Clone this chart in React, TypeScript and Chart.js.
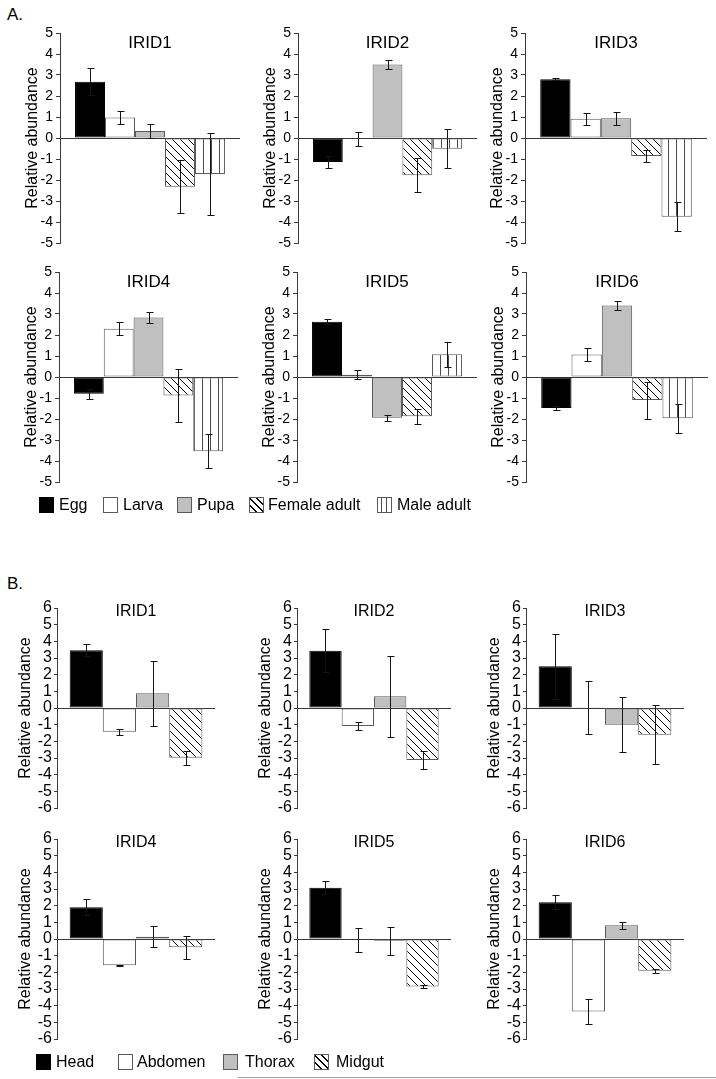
import React, { useEffect, useRef } from 'react';
import { Chart, registerables } from 'chart.js';

Chart.register(...registerables);

const FONT = '"Liberation Sans", Arial, Helvetica, sans-serif';

// ---------- categories ----------
const STAGES = ['Egg', 'Larva', 'Pupa', 'Female adult', 'Male adult'];
const TISSUES = ['Head', 'Abdomen', 'Thorax', 'Midgut'];
const GENES = ['IRID1', 'IRID2', 'IRID3', 'IRID4', 'IRID5', 'IRID6'];
const Y_TITLE = 'Relative abundance';

// ---------- panel A: developmental stages ----------
const A_IRID1 = [2.68, 0.98, 0.33, -2.32, -1.72];
const A_IRID1_ERR = [0.64, 0.32, 0.32, 1.27, 1.97];
const A_IRID2 = [-1.14, -0.04, 3.5, -1.77, -0.51];
const A_IRID2_ERR = [0.29, 0.32, 0.21, 0.82, 0.94];
const A_IRID3 = [2.8, 0.92, 0.94, -0.86, -3.75];
const A_IRID3_ERR = [0.04, 0.28, 0.3, 0.3, 0.68];
const A_IRID4 = [-0.8, 2.3, 2.83, -0.88, -3.53];
const A_IRID4_ERR = [0.24, 0.3, 0.26, 1.26, 0.81];
const A_IRID5 = [2.63, 0.11, -1.94, -1.87, 1.08];
const A_IRID5_ERR = [0.12, 0.22, 0.15, 0.35, 0.61];
const A_IRID6 = [-1.48, 1.07, 3.41, -1.1, -1.97];
const A_IRID6_ERR = [0.1, 0.32, 0.2, 0.88, 0.7];

// ---------- panel B: tissues ----------
const B_IRID1 = [3.47, -1.43, 0.88, -2.98];
const B_IRID1_ERR = [0.35, 0.17, 1.96, 0.42];
const B_IRID2 = [3.43, -1.08, 0.7, -3.12];
const B_IRID2_ERR = [1.28, 0.25, 2.42, 0.55];
const B_IRID3 = [2.5, 0.02, -1.0, -1.6];
const B_IRID3_ERR = [1.96, 1.6, 1.65, 1.75];
const B_IRID4 = [1.91, -1.58, 0.14, -0.5];
const B_IRID4_ERR = [0.48, 0.03, 0.63, 0.67];
const B_IRID5 = [3.08, -0.05, -0.1, -2.85];
const B_IRID5_ERR = [0.38, 0.7, 0.85, 0.07];
const B_IRID6 = [2.2, -4.35, 0.83, -1.9];
const B_IRID6_ERR = [0.42, 0.75, 0.2, 0.12];

// axis ranges
const A_Y_MIN = -5;
const A_Y_MAX = 5;
const B_Y_MIN = -6;
const B_Y_MAX = 6;
const Y_STEP = 1;

const A_VALUES = [A_IRID1, A_IRID2, A_IRID3, A_IRID4, A_IRID5, A_IRID6];
const A_ERRS = [A_IRID1_ERR, A_IRID2_ERR, A_IRID3_ERR, A_IRID4_ERR, A_IRID5_ERR, A_IRID6_ERR];
const B_VALUES = [B_IRID1, B_IRID2, B_IRID3, B_IRID4, B_IRID5, B_IRID6];
const B_ERRS = [B_IRID1_ERR, B_IRID2_ERR, B_IRID3_ERR, B_IRID4_ERR, B_IRID5_ERR, B_IRID6_ERR];

// ---------- styles / layout ----------
type Kind = 'black' | 'white' | 'gray' | 'diag' | 'vert';
const A_KINDS: Kind[] = ['black', 'white', 'gray', 'diag', 'vert'];
const B_KINDS: Kind[] = ['black', 'white', 'gray', 'diag'];

type Box = { l: number; r: number; t: number; b: number };
const A_BOXES: Box[] = [
  { l: 60, r: 240, t: 33, b: 243 },
  { l: 298, r: 477, t: 33, b: 243 },
  { l: 525, r: 707, t: 33, b: 243 },
  { l: 59, r: 238, t: 272, b: 482 },
  { l: 297, r: 477, t: 272, b: 482 },
  { l: 526, r: 708, t: 272, b: 482 },
];
const B_BOXES: Box[] = [
  { l: 57, r: 215, t: 608, b: 808 },
  { l: 297, r: 451, t: 608, b: 808 },
  { l: 526, r: 684, t: 608, b: 808 },
  { l: 57, r: 215, t: 839, b: 1039 },
  { l: 297, r: 451, t: 839, b: 1039 },
  { l: 526, r: 684, t: 839, b: 1039 },
];

type PanelStyle = {
  yMin: number;
  yMax: number;
  tickSize: number;
  titleSize: number;
  titleDy: number;
  axisDx: number;
  tickLength: number;
  tickPad: number;
  catPct: number;
};
const A_STYLE: PanelStyle = {
  yMin: A_Y_MIN, yMax: A_Y_MAX, tickSize: 14, titleSize: 17, titleDy: 10, axisDx: 27,
  tickLength: 4, tickPad: 3, catPct: 0.833,
};
const B_STYLE: PanelStyle = {
  yMin: B_Y_MIN, yMax: B_Y_MAX, tickSize: 16, titleSize: 16, titleDy: 4, axisDx: 31,
  tickLength: 3, tickPad: 2, catPct: 0.84,
};

const YW = 60;
const PAD_T = 18;
const PAD_B = 18;
const PAD_R = 8;
const AXIS_COLOR = '#3a3a3a';
const EDGE_COLOR = '#5a5a5a';

function makeFill(kind: Kind): string | CanvasPattern {
  if (kind === 'black') return '#000000';
  if (kind === 'white') return '#ffffff';
  if (kind === 'gray') return '#c0c0c0';
  const s = 8;
  const pc = document.createElement('canvas');
  pc.width = s;
  pc.height = s;
  const g = pc.getContext('2d')!;
  g.fillStyle = '#ffffff';
  g.fillRect(0, 0, s, s);
  if (kind === 'diag') {
    g.strokeStyle = '#000000';
    g.lineWidth = 1;
    g.beginPath();
    for (const o of [-s, 0, s]) {
      g.moveTo(o, 0);
      g.lineTo(o + s, s);
    }
    g.stroke();
  } else {
    g.fillStyle = '#4a4a4a';
    g.fillRect(3, 0, 1, s);
  }
  return g.createPattern(pc, 'repeat')!;
}

type SubProps = {
  gene: string;
  cats: string[];
  values: number[];
  errs: number[];
  kinds: Kind[];
  box: Box;
  st: PanelStyle;
};

function Subplot({ gene, cats, values, errs, kinds, box, st }: SubProps) {
  const ref = useRef<HTMLCanvasElement>(null);
  const x0 = box.l - YW;
  const y0 = box.t - PAD_T;
  const w = box.r + PAD_R - x0;
  const h = box.b + PAD_B - y0;

  useEffect(() => {
    const canvas = ref.current;
    if (!canvas) return;

    const errPlugin = {
      id: 'errbars',
      afterDatasetsDraw(chart: any) {
        const ctx = chart.ctx as CanvasRenderingContext2D;
        const ys = chart.scales.y;
        ctx.save();
        ctx.strokeStyle = '#141414';
        ctx.lineWidth = 1;
        values.forEach((v, i) => {
          const bar = chart.getDatasetMeta(i).data[0];
          if (!bar) return;
          const e = errs[i];
          const x = Math.round(bar.x) + 0.5;
          const y1 = Math.round(ys.getPixelForValue(v + e)) + 0.5;
          const y2 = Math.round(ys.getPixelForValue(v - e)) + 0.5;
          ctx.beginPath();
          ctx.moveTo(x, y1);
          ctx.lineTo(x, y2);
          ctx.moveTo(x - 3, y1);
          ctx.lineTo(x + 4, y1);
          ctx.moveTo(x - 3, y2);
          ctx.lineTo(x + 4, y2);
          ctx.stroke();
        });
        ctx.restore();
      },
    };

    const textPlugin = {
      id: 'texts',
      afterDraw(chart: any) {
        const ctx = chart.ctx as CanvasRenderingContext2D;
        const a = chart.chartArea;
        ctx.save();
        ctx.fillStyle = '#000';
        ctx.textAlign = 'center';
        ctx.textBaseline = 'middle';
        ctx.font = `${st.titleSize}px ${FONT}`;
        ctx.fillText(gene, (a.left + a.right) / 2, a.top + st.titleDy);
        ctx.translate(a.left - st.axisDx, (a.top + a.bottom) / 2);
        ctx.rotate(-Math.PI / 2);
        ctx.font = `16px ${FONT}`;
        ctx.fillText(Y_TITLE, 0, 0);
        ctx.restore();
      },
    };

    const chart = new Chart(canvas, {
      type: 'bar',
      data: {
        labels: [''],
        datasets: cats.map((c, i) => ({
          label: c,
          data: [values[i]],
          backgroundColor: makeFill(kinds[i]) as any,
          borderColor: kinds[i] === 'black' ? '#000' : EDGE_COLOR,
          borderWidth: 1,
          borderSkipped: false,
          categoryPercentage: st.catPct,
          barPercentage: 1,
        })),
      },
      options: {
        responsive: false,
        animation: false,
        devicePixelRatio: 1,
        layout: { padding: { top: PAD_T, bottom: PAD_B, left: 0, right: PAD_R } },
        plugins: {
          legend: { display: false },
          tooltip: { enabled: false },
          title: { display: false },
        },
        scales: {
          x: { display: false },
          y: {
            min: st.yMin,
            max: st.yMax,
            afterFit: (s: any) => {
              s.width = YW;
            },
            ticks: {
              stepSize: Y_STEP,
              autoSkip: false,
              color: '#000',
              padding: st.tickPad,
              font: { family: FONT, size: st.tickSize },
            },
            grid: {
              color: (c: any) => (c.tick && c.tick.value === 0 ? AXIS_COLOR : 'rgba(0,0,0,0)'),
              tickColor: AXIS_COLOR,
              tickLength: st.tickLength,
              drawTicks: true,
              lineWidth: 1,
            },
            border: { display: true, color: AXIS_COLOR, width: 1 },
          },
        },
      },
      plugins: [errPlugin, textPlugin],
    } as any);
    return () => chart.destroy();
  }, []);

  return (
    <canvas
      ref={ref}
      width={w}
      height={h}
      style={{ position: 'absolute', left: x0, top: y0, width: w, height: h }}
    />
  );
}

function swatchBg(kind: Kind): string {
  switch (kind) {
    case 'black':
      return '#000';
    case 'white':
      return '#fff';
    case 'gray':
      return '#c0c0c0';
    case 'diag':
      return 'repeating-linear-gradient(45deg, #fff 0px, #fff 4px, #000 4px, #000 5px)';
    default:
      return 'repeating-linear-gradient(90deg, #fff 0px, #fff 3px, #4a4a4a 3px, #4a4a4a 4px, #fff 4px, #fff 5px)';
  }
}

type LegItem = { label: string; kind: Kind; x: number; tx: number };

function Legend({ items, y }: { items: LegItem[]; y: number }) {
  return (
    <>
      {items.map((it) => (
        <React.Fragment key={it.label}>
          <div
            style={{
              position: 'absolute',
              left: it.x,
              top: y - 8,
              width: 15,
              height: 16,
              boxSizing: 'border-box',
              border: `1px solid ${it.kind === 'black' ? '#000' : EDGE_COLOR}`,
              background: swatchBg(it.kind),
            }}
          />
          <div
            style={{
              position: 'absolute',
              left: it.tx,
              top: y - 9,
              height: 18,
              lineHeight: '18px',
              fontFamily: FONT,
              fontSize: 16,
              color: '#000',
              whiteSpace: 'nowrap',
            }}
          >
            {it.label}
          </div>
        </React.Fragment>
      ))}
    </>
  );
}

const A_LEG_X = [39, 103, 177, 249, 377];
const A_LEG_TX = [59, 123, 197, 268, 397];
const B_LEG_X = [36, 118, 223, 314];
const B_LEG_TX = [56, 137, 245, 336];

export default function App() {
  const aLeg: LegItem[] = STAGES.map((s, i) => ({ label: s, kind: A_KINDS[i], x: A_LEG_X[i], tx: A_LEG_TX[i] }));
  const bLeg: LegItem[] = TISSUES.map((s, i) => ({ label: s, kind: B_KINDS[i], x: B_LEG_X[i], tx: B_LEG_TX[i] }));
  return (
    <div
      style={{
        position: 'absolute',
        left: 0,
        top: 0,
        width: 716,
        height: 1079,
        background: '#fff',
        overflow: 'hidden',
        fontFamily: FONT,
      }}
    >
      <div style={{ position: 'absolute', left: 7, top: 5, fontSize: 17, lineHeight: '20px', fontFamily: FONT }}>A.</div>
      <div style={{ position: 'absolute', left: 7, top: 574, fontSize: 17, lineHeight: '20px', fontFamily: FONT }}>B.</div>
      {GENES.map((g, i) => (
        <Subplot key={'A' + g} gene={g} cats={STAGES} values={A_VALUES[i]} errs={A_ERRS[i]} kinds={A_KINDS} box={A_BOXES[i]} st={A_STYLE} />
      ))}
      {GENES.map((g, i) => (
        <Subplot key={'B' + g} gene={g} cats={TISSUES} values={B_VALUES[i]} errs={B_ERRS[i]} kinds={B_KINDS} box={B_BOXES[i]} st={B_STYLE} />
      ))}
      <Legend items={aLeg} y={505} />
      <Legend items={bLeg} y={1062} />
      <div style={{ position: 'absolute', left: 238, top: 1077, width: 478, height: 1, background: '#a0a0a0' }} />
    </div>
  );
}
